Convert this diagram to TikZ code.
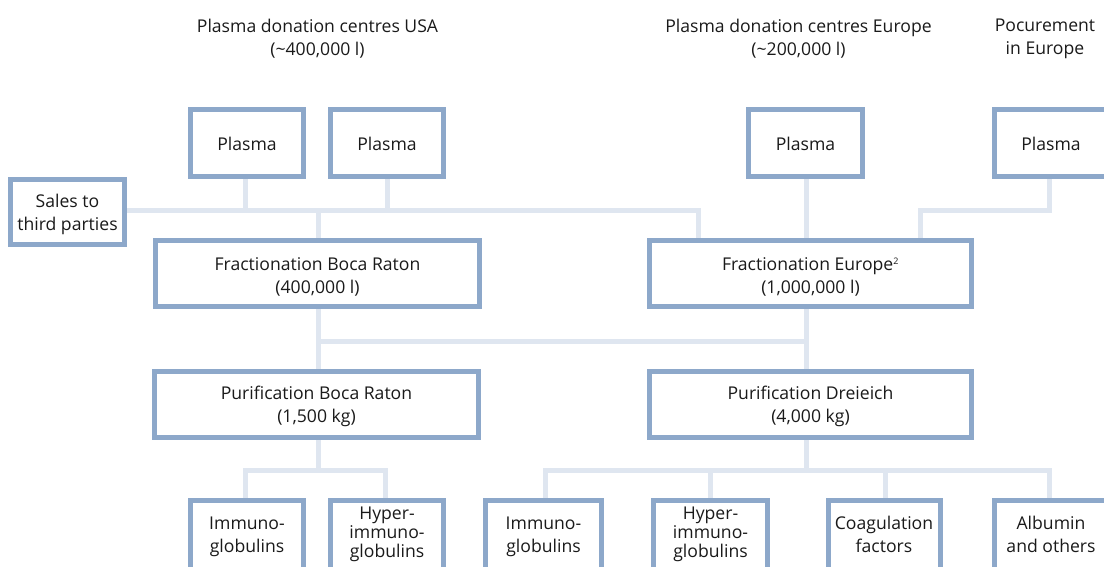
\documentclass[tikz,border=0pt]{standalone}
\usepackage{fontspec}
\setmainfont{Open Sans}
\usetikzlibrary{backgrounds}
\definecolor{boxc}{HTML}{8DA8CA}
\definecolor{linec}{HTML}{DFE6F0}
\definecolor{txtc}{HTML}{1A1A1A}
\newcommand{\tx}[3]{\raisebox{0pt}[\dimexpr\height+#1\relax][\dimexpr\depth+#2\relax]{\begin{tabular}{@{}c@{}}#3\end{tabular}}}
\begin{document}
\begin{tikzpicture}[x=1pt,y=-1pt,
  box/.style={draw=boxc,line width=5pt,fill=white,align=center,inner sep=0pt,
    text=txtc,font=\fontsize{17.6}{23}\selectfont},
  tight/.style={font=\fontsize{17.6}{19}\selectfont},
  conn/.style={draw=linec,line width=5pt},
  lbl/.style={align=center,inner sep=0pt,text=txtc,font=\fontsize{17.6}{23}\selectfont}]
\clip (0,0) rectangle (1104,566);
\useasboundingbox (0,0) rectangle (1104,566);
% top labels
\node[lbl] (lusa) at (317.5,38.5) {Plasma donation centres USA\\(\textasciitilde 400,000 l)};
\node[lbl] (leur) at (798.5,38.5) {Plasma donation centres Europe\\(\textasciitilde 200,000 l)};
\node[lbl] (lpro) at (1045,38.5) {Pocurement\\in Europe};
% boxes
\node[box,minimum width=113pt,minimum height=67pt] (p1) at (247,143) {\tx{6pt}{0pt}{Plasma}};
\node[box,minimum width=113pt,minimum height=67pt] (p2) at (387,143) {\tx{6pt}{0pt}{Plasma}};
\node[box,minimum width=114pt,minimum height=67pt] (p3) at (805.5,143) {\tx{6pt}{0pt}{Plasma}};
\node[box,minimum width=113pt,minimum height=67pt] (p4) at (1051,143) {\tx{6pt}{0pt}{Plasma}};
\node[box,minimum width=114pt,minimum height=65pt] (sales) at (67.5,212) {\tx{4pt}{0pt}{Sales to\\third parties}};
\node[box,minimum width=324pt,minimum height=66pt] (fb) at (317.5,273.5) {\tx{8pt}{0pt}{Fractionation Boca Raton\\(400,000 l)}};
\node[box,minimum width=322pt,minimum height=66pt] (fe) at (810.5,273.5) {\tx{8pt}{0pt}{Fractionation Europe\textsuperscript{\fontsize{9}{9}\selectfont 2}\\(1,000,000 l)}};
\node[box,minimum width=324pt,minimum height=66pt] (pb) at (316.5,404) {\tx{4pt}{0pt}{Purification Boca Raton\\(1,500 kg)}};
\node[box,minimum width=322pt,minimum height=66pt] (pd) at (810.5,404) {\tx{4pt}{0pt}{Purification Dreieich\\(4,000 kg)}};
\node[box,minimum width=113pt,minimum height=72pt] (i1) at (247,536) {\tx{0pt}{0pt}{Immuno-\\globulins}};
\node[box,tight,minimum width=113pt,minimum height=72pt] (h1) at (387,536) {\tx{2pt}{4pt}{Hyper-\\immuno-\\globulins}};
\node[box,minimum width=116pt,minimum height=72pt] (i2) at (543.5,536) {\tx{0pt}{0pt}{Immuno-\\globulins}};
\node[box,tight,minimum width=114pt,minimum height=72pt] (h2) at (710.5,536) {\tx{2pt}{4pt}{Hyper-\\immuno-\\globulins}};
\node[box,minimum width=112pt,minimum height=72pt] (co) at (884,536) {\tx{0pt}{0pt}{Coagulation\\factors}};
\node[box,minimum width=113pt,minimum height=72pt] (al) at (1051,536) {\tx{0pt}{0pt}{Albumin\\and others}};
% connectors
\begin{scope}[on background layer]
\coordinate (jtop) at (0,210.5);
\draw[conn] (sales.east |- jtop) -- (698.5,210.5) coordinate (ce) -- (ce |- fe.north);
\draw[conn] (245.5,0 |- p1.south) -- (245.5,210.5);
\draw[conn] (p2.south) -- (p2.south |- jtop);
\draw[conn] (318,210.5) -- (318,0 |- fb.north);
\draw[conn] (806,0 |- p3.south) -- (806,0 |- fe.north);
\draw[conn] (1049.5,0 |- p4.south) -- (1049.5,210.5) -- (920.5,210.5) -- (920.5,0 |- fe.north);
\draw[conn] (318,0 |- fb.south) -- (318,0 |- pb.north);
\draw[conn] (806,0 |- fe.south) -- (806,0 |- pd.north);
\draw[conn] (318,341.5) -- (806,341.5);
\draw[conn] (318,0 |- pb.south) -- (318,470.5);
\draw[conn] (245.5,0 |- i1.north) -- (245.5,470.5) -- (385,470.5) -- (385,0 |- h1.north);
\draw[conn] (806,0 |- pd.south) -- (806,470.5);
\draw[conn] (545.5,0 |- i2.north) -- (545.5,470.5) -- (1049.5,470.5) -- (1049.5,0 |- al.north);
\draw[conn] (710.5,470.5) -- (710.5,0 |- h2.north);
\draw[conn] (885.5,470.5) -- (885.5,0 |- co.north);
\end{scope}
\end{tikzpicture}
\end{document}
